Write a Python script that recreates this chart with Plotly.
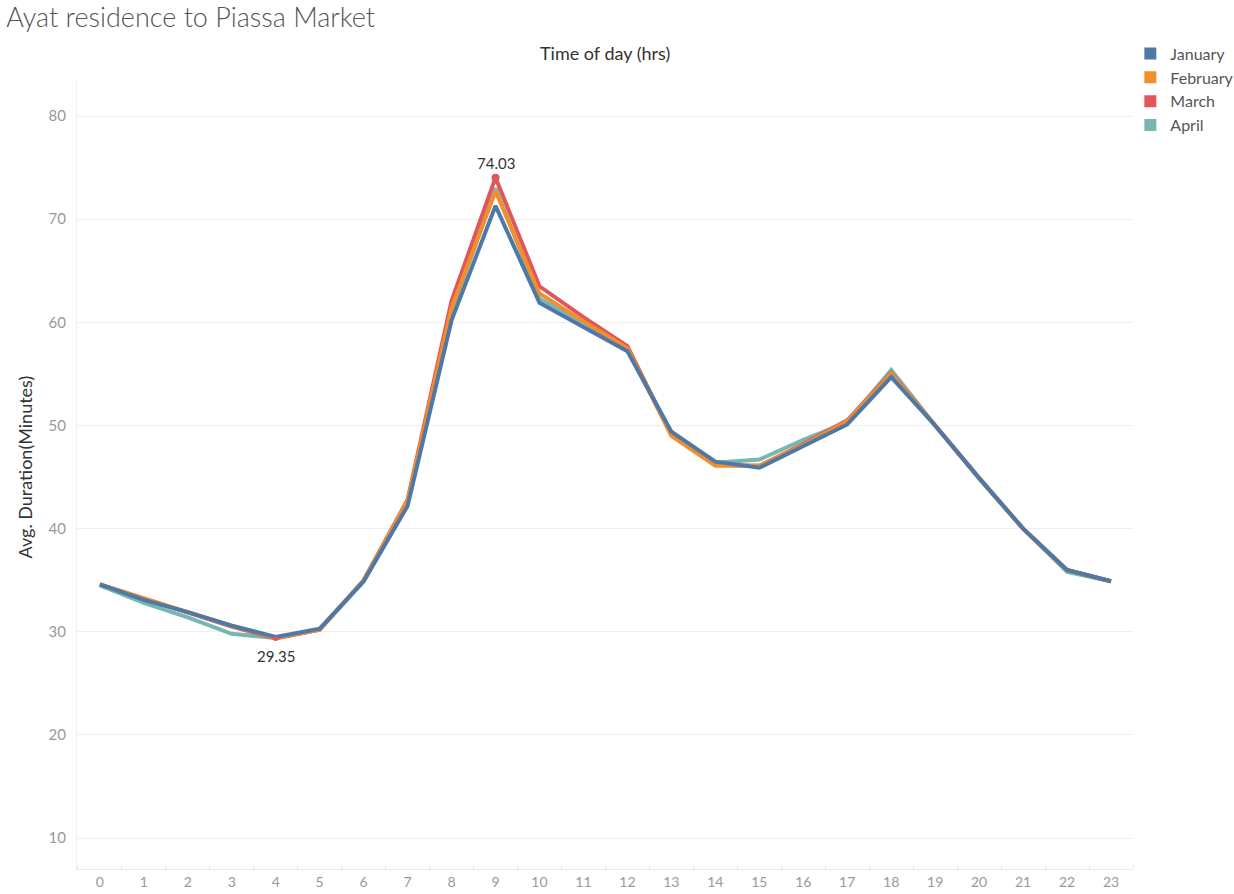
import plotly.graph_objects as go

hours = list(range(24))
hour_labels = [str(h) for h in hours]

january = [34.6, 33.1, 31.9, 30.6, 29.5, 30.3, 34.9, 42.2, 60.2, 71.3, 61.9, 59.5,
           57.2, 49.4, 46.5, 45.9, 48.0, 50.1, 54.7, 50.0, 44.9, 40.0, 36.0, 34.9]
february = [34.6, 33.2, 31.9, 30.6, 29.4, 30.2, 35.0, 42.7, 61.4, 72.7, 62.8, 60.1,
            57.5, 49.0, 46.1, 46.1, 48.1, 50.4, 55.0, 50.0, 44.9, 40.0, 36.0, 34.9]
march = [34.6, 33.2, 31.8, 30.5, 29.35, 30.2, 35.0, 42.8, 62.1, 74.03, 63.5, 60.5,
         57.7, 49.1, 46.2, 46.1, 48.2, 50.5, 55.1, 50.0, 44.9, 40.0, 36.0, 34.9]
april = [34.5, 32.8, 31.4, 29.8, 29.4, 30.2, 34.9, 42.4, 61.0, 73.0, 62.3, 60.0,
         57.3, 49.3, 46.4, 46.7, 48.6, 50.3, 55.4, 50.0, 44.9, 40.0, 35.8, 34.9]

series = [("January", january, "#4e79a7"),
          ("February", february, "#f28e2b"),
          ("March", march, "#e15759"),
          ("April", april, "#76b7b2")]
draw_order = ["April", "March", "February", "January"]

FONT = "Lato"
fig = go.Figure()

lookup = {n: (v, c) for n, v, c in series}
for name in draw_order:
    vals, col = lookup[name]
    fig.add_trace(go.Scatter(x=hours, y=vals, mode="lines", name=name,
                             line=dict(color=col, width=4), showlegend=False,
                             hovertemplate="%{x}: %{y:.2f}<extra>" + name + "</extra>"))

# max / min markers on March
imax = march.index(max(march))
imin = march.index(min(march))
fig.add_trace(go.Scatter(x=[hours[imax]], y=[march[imax]], mode="markers",
                         marker=dict(color="#e15759", size=8), showlegend=False))
fig.add_trace(go.Scatter(x=[hours[imin]], y=[march[imin]], mode="markers",
                         marker=dict(color="#e15759", size=5), showlegend=False))
fig.add_annotation(x=hours[imax], y=march[imax], text=f"{march[imax]:.2f}", showarrow=False,
                   yshift=15, font=dict(size=15, color="#333333", family=FONT))
fig.add_annotation(x=hours[imin], y=march[imin], text=f"{march[imin]:.2f}", showarrow=False,
                   yshift=-18, font=dict(size=15, color="#333333", family=FONT))

# legend entries as squares
for name, vals, col in series:
    fig.add_trace(go.Scatter(x=[None], y=[None], mode="markers", name=name,
                             marker=dict(symbol="square", size=19, color=col)))

fig.update_layout(
    width=1234, height=894,
    margin=dict(l=77, r=101, t=80, b=25, autoexpand=False),
    paper_bgcolor="white", plot_bgcolor="white",
    font=dict(family=FONT, color="#666666"),
    title=dict(text="Ayat residence to Piassa Market", x=0.005, xanchor="left",
               y=0.980, yanchor="middle",
               font=dict(size=27, color="#555555", family=FONT, weight=300)),
    legend=dict(xref="container", yref="container", x=0.916, y=0.959,
                xanchor="left", yanchor="top", font=dict(size=16, color="#555555", family=FONT),
                itemsizing="constant", tracegroupgap=0, itemwidth=30,
                bgcolor="rgba(0,0,0,0)"),
    showlegend=True,
)

fig.update_xaxes(range=[-0.52, 23.5], tickmode="array", tickvals=hours, ticktext=hour_labels,
                 showgrid=False, zeroline=False, showline=True, linecolor="#e8e8e8",
                 tickfont=dict(size=14, color="#999999", family=FONT), ticks="",
                 ticklabelstandoff=0, automargin=False,
                 minor=dict(tickmode="linear", tick0=0.5, dtick=1, ticks="inside",
                            ticklen=4, tickcolor="#e6e6e6", showgrid=False))
fig.update_yaxes(range=[7.0, 83.5], tickvals=[10, 20, 30, 40, 50, 60, 70, 80],
                 showgrid=True, gridcolor="#f0f0f0", zeroline=False, showline=True,
                 linecolor="#f0f0f0", tickfont=dict(size=15, color="#999999", family=FONT),
                 ticks="", ticklabelstandoff=7, automargin=False)

fig.add_annotation(text="Time of day (hrs)", xref="paper", yref="paper", x=0.5, y=1.0,
                   yshift=14, yanchor="bottom", showarrow=False,
                   font=dict(size=18, color="#333333", family=FONT))
fig.add_annotation(text="Avg. Duration(Minutes)", xref="paper", yref="paper", x=0, y=0.5,
                   xshift=-53, yshift=7, xanchor="center", textangle=-90, showarrow=False,
                   font=dict(size=18, color="#333333", family=FONT))

fig.write_html("out.html")
